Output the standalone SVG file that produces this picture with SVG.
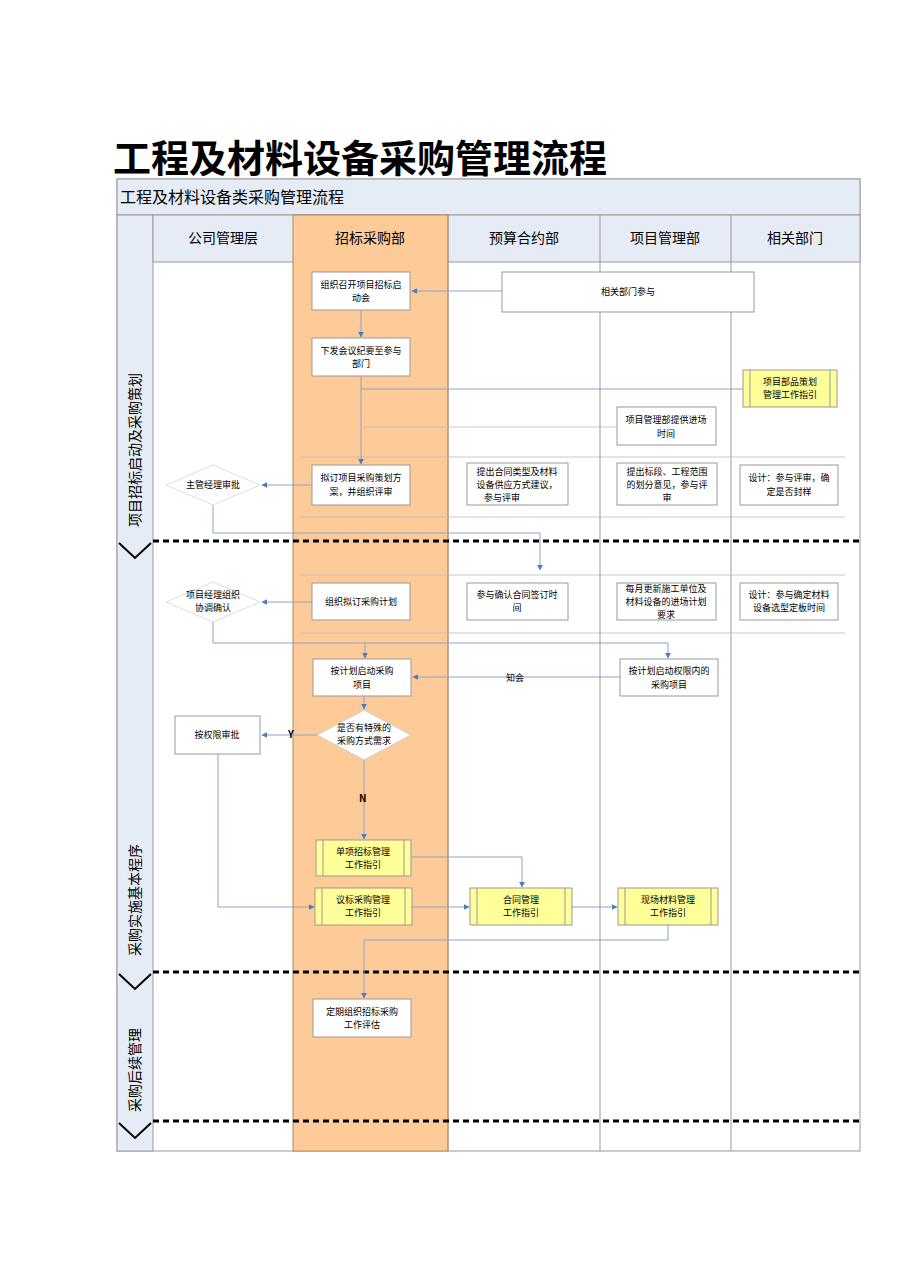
<svg xmlns="http://www.w3.org/2000/svg" width="909" height="1286" viewBox="0 0 909 1286">
<style>
text{font-family:"Noto Sans CJK SC","Liberation Sans",sans-serif;fill:#000}
.t{font-size:9px;text-anchor:middle}
.box{fill:#fff;stroke:#999;stroke-width:1}
.y{fill:#ffff99;stroke:#999}
.c{fill:none;stroke:#8aa4c8;stroke-width:1}
.g{fill:none;stroke:#bbb;stroke-width:0.8}
.d{stroke:#000;stroke-width:3;stroke-dasharray:6,4}
.hd{font-size:14px;text-anchor:middle}
</style>
<defs><marker id="a" viewBox="0 0 10 10" refX="9" refY="5" markerWidth="6" markerHeight="6" orient="auto"><path d="M0,0L10,5L0,10z" fill="#4a7cc4"/></marker></defs>
<rect width="909" height="1286" fill="#fff"/>
<text x="113" y="172" font-size="38" font-weight="bold" font-family="Noto Sans CJK SC,sans-serif">工程及材料设备采购管理流程</text>
<g id="frame">
<rect x="117" y="179" width="743" height="972" fill="#fff" stroke="#999"/>
<rect x="117" y="179" width="743" height="36" fill="#e6ecf5" stroke="#999"/>
<text x="120" y="203" font-size="16">工程及材料设备类采购管理流程</text>
<rect x="117" y="215" width="36" height="936" fill="#e6ecf5" stroke="#999"/>
<rect x="153" y="215" width="707" height="47" fill="#e6ecf5" stroke="#999"/>
<rect x="293" y="215" width="155" height="936" fill="#fecb98" stroke="#b08a60"/>
<line x1="448" y1="215" x2="448" y2="1151" stroke="#999"/>
<line x1="600" y1="215" x2="600" y2="1151" stroke="#999"/>
<line x1="731" y1="215" x2="731" y2="1151" stroke="#999"/>
<text x="223" y="243" class="hd">公司管理层</text>
<text x="370" y="243" class="hd">招标采购部</text>
<text x="524" y="243" class="hd">预算合约部</text>
<text x="665" y="243" class="hd">项目管理部</text>
<text x="795" y="243" class="hd">相关部门</text>
<text transform="translate(140,450) rotate(-90)" font-size="14" text-anchor="middle">项目招标启动及采购策划</text>
<text transform="translate(140,900) rotate(-90)" font-size="14" text-anchor="middle">采购实施基本程序</text>
<text transform="translate(140,1070) rotate(-90)" font-size="14" text-anchor="middle">采购后续管理</text>
<line x1="153" y1="541" x2="860" y2="541" class="d"/>
<line x1="153" y1="972" x2="860" y2="972" class="d"/>
<line x1="153" y1="1121" x2="860" y2="1121" class="d"/>
<path d="M119,543 L135,558 L151,543 M119,974 L135,989 L151,974 M119,1123 L135,1138 L151,1123" fill="none" stroke="#000" stroke-width="2"/>
<line x1="300" y1="457" x2="845" y2="457" class="g"/>
<line x1="300" y1="517" x2="845" y2="517" class="g"/>
<line x1="300" y1="575" x2="845" y2="575" class="g"/>
<line x1="300" y1="633" x2="845" y2="633" class="g"/>
</g>
<g id="connectors">
<line x1="502" y1="291" x2="412" y2="291" class="c" marker-end="url(#a)"/>
<line x1="361" y1="310" x2="361" y2="337" class="c" marker-end="url(#a)"/>
<line x1="361" y1="376" x2="361" y2="464" class="c" stroke-width="2" marker-end="url(#a)"/>
<polyline points="743,389 361,389" class="c"/>
<polyline points="617,427 361,427" class="g"/>
<line x1="312" y1="485" x2="262" y2="485" class="c" marker-end="url(#a)"/>
<polyline points="213,505 213,533 540,533 540,570" class="c" marker-end="url(#a)"/>
<line x1="312" y1="602" x2="262" y2="602" class="c" marker-end="url(#a)"/>
<polyline points="213,622 213,643 668,643 668,658" class="c" marker-end="url(#a)"/>
<line x1="365" y1="643" x2="365" y2="658" class="c" marker-end="url(#a)"/>
<line x1="620" y1="677" x2="413" y2="677" class="c" marker-end="url(#a)"/>
<line x1="364" y1="696" x2="364" y2="709" class="c" marker-end="url(#a)"/>
<line x1="317" y1="735" x2="262" y2="735" class="c" marker-end="url(#a)"/>
<line x1="364" y1="760" x2="364" y2="839" class="c" marker-end="url(#a)"/>
<polyline points="218,754 218,907 314,907" class="c" marker-end="url(#a)"/>
<polyline points="411,857 522,857 522,887" class="c" marker-end="url(#a)"/>
<line x1="412" y1="907" x2="469" y2="907" class="c" marker-end="url(#a)"/>
<line x1="572" y1="907" x2="617" y2="907" class="c" marker-end="url(#a)"/>
<polyline points="668,925 668,940 364,940 364,998" class="c" marker-end="url(#a)"/>
<text x="515" y="681" class="t">知会</text>
<text x="288" y="738" font-size="10" font-family="Liberation Serif,serif" font-weight="bold">Y</text>
<text x="359" y="802" font-size="10" font-family="Liberation Serif,serif" font-weight="bold">N</text>
</g>
<g id="n1"><rect x="312" y="272" width="98" height="38" class="box"/><text class="t" x="361" y="288">组织召开项目招标启</text><text class="t" x="361" y="301">动会</text></g>
<g id="n2"><rect x="502" y="272" width="252" height="40" class="box"/><text class="t" x="628" y="295">相关部门参与</text></g>
<g id="n3"><rect x="312" y="338" width="98" height="38" class="box"/><text class="t" x="361" y="354">下发会议纪要至参与</text><text class="t" x="361" y="367">部门</text></g>
<g id="n4"><rect x="743" y="370" width="94" height="37" class="y"/><line x1="750" y1="370" x2="750" y2="407" stroke="#999"/><line x1="830" y1="370" x2="830" y2="407" stroke="#999"/><text class="t" x="790" y="385">项目部品策划</text><text class="t" x="790" y="398">管理工作指引</text></g>
<g id="n5"><rect x="617" y="407" width="99" height="38" class="box"/><text class="t" x="666" y="423">项目管理部提供进场</text><text class="t" x="666" y="437">时间</text></g>
<g id="n6"><rect x="312" y="465" width="98" height="40" class="box"/><text class="t" x="361" y="481">拟订项目采购策划方</text><text class="t" x="361" y="495">案，并组织评审</text></g>
<g id="n7"><rect x="467" y="463" width="101" height="42" class="box"/><text class="t" x="517" y="475">提出合同类型及材料</text><text class="t" x="517" y="488">设备供应方式建议，</text><text class="t" x="502" y="501">参与评审</text></g>
<g id="n8"><rect x="617" y="463" width="100" height="42" class="box"/><text class="t" x="667" y="475">提出标段、工程范围</text><text class="t" x="667" y="488">的划分意见，参与评</text><text class="t" x="667" y="501">审</text></g>
<g id="n9"><rect x="740" y="465" width="98" height="40" class="box"/><text class="t" x="789" y="481">设计：参与评审，确</text><text class="t" x="789" y="495">定是否封样</text></g>
<g id="n10"><polygon points="166,485 213,465 260,485 213,505" fill="#fff" stroke="#ddd"/><text class="t" x="213" y="488">主管经理审批</text></g>
<g id="n11"><rect x="312" y="583" width="98" height="37" class="box"/><text class="t" x="361" y="605">组织拟订采购计划</text></g>
<g id="n12"><rect x="467" y="583" width="101" height="37" class="box"/><text class="t" x="517" y="598">参与确认合同签订时</text><text class="t" x="517" y="611">间</text></g>
<g id="n13"><rect x="617" y="583" width="99" height="37" class="box"/><text class="t" x="666" y="592">每月更新施工单位及</text><text class="t" x="666" y="605">材料设备的进场计划</text><text class="t" x="666" y="618">要求</text></g>
<g id="n14"><rect x="740" y="583" width="98" height="37" class="box"/><text class="t" x="789" y="598">设计：参与确定材料</text><text class="t" x="789" y="611">设备选型定板时间</text></g>
<g id="n15"><polygon points="166,602 213,582 260,602 213,622" fill="#fff" stroke="#ddd"/><text class="t" x="213" y="598">项目经理组织</text><text class="t" x="213" y="611">协调确认</text></g>
<g id="n16"><rect x="313" y="659" width="98" height="37" class="box"/><text class="t" x="362" y="674">按计划启动采购</text><text class="t" x="362" y="688">项目</text></g>
<g id="n17"><rect x="620" y="659" width="98" height="37" class="box"/><text class="t" x="669" y="674">按计划启动权限内的</text><text class="t" x="669" y="688">采购项目</text></g>
<g id="n18"><polygon points="317,735 364,710 411,735 364,760" fill="#fff" stroke="#ccc"/><text class="t" x="364" y="731">是否有特殊的</text><text class="t" x="364" y="744">采购方式需求</text></g>
<g id="n19"><rect x="175" y="716" width="85" height="38" class="box"/><text class="t" x="217" y="738">按权限审批</text></g>
<g id="n20"><rect x="316" y="840" width="95" height="36" class="y"/><line x1="323" y1="840" x2="323" y2="876" stroke="#999"/><line x1="404" y1="840" x2="404" y2="876" stroke="#999"/><text class="t" x="363" y="855">单项招标管理</text><text class="t" x="363" y="868">工作指引</text></g>
<g id="n21"><rect x="315" y="888" width="97" height="37" class="y"/><line x1="322" y1="888" x2="322" y2="925" stroke="#999"/><line x1="405" y1="888" x2="405" y2="925" stroke="#999"/><text class="t" x="363" y="903">议标采购管理</text><text class="t" x="363" y="916">工作指引</text></g>
<g id="n22"><rect x="470" y="888" width="102" height="37" class="y"/><line x1="477" y1="888" x2="477" y2="925" stroke="#999"/><line x1="565" y1="888" x2="565" y2="925" stroke="#999"/><text class="t" x="521" y="903">合同管理</text><text class="t" x="521" y="916">工作指引</text></g>
<g id="n23"><rect x="618" y="888" width="100" height="37" class="y"/><line x1="625" y1="888" x2="625" y2="925" stroke="#999"/><line x1="711" y1="888" x2="711" y2="925" stroke="#999"/><text class="t" x="668" y="903">现场材料管理</text><text class="t" x="668" y="916">工作指引</text></g>
<g id="n24"><rect x="313" y="999" width="98" height="38" class="box"/><text class="t" x="362" y="1015">定期组织招标采购</text><text class="t" x="362" y="1028">工作评估</text></g>
</svg>
